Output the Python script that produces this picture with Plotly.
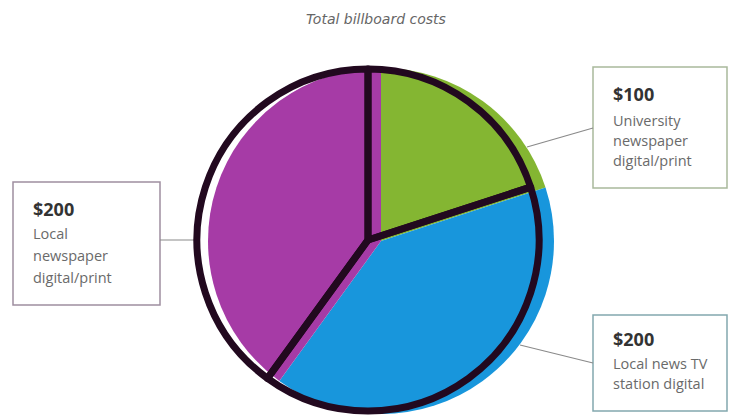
import plotly.graph_objects as go

W, H = 729, 415

# ---- data ----
labels = ["University newspaper digital/print", "Local news TV station digital", "Local newspaper digital/print"]
values = [100, 200, 200]
colors = ["#84b632", "#1896dc", "#a63ba6"]
title = "Total billboard costs"
callout_lines = [["University", "newspaper", "digital/print"],
                 ["Local news TV", "station digital"],
                 ["Local", "newspaper", "digital/print"]]

def px(x):
    return x / W

def py(y):
    return 1 - y / H

def dom(cx, cy, r):
    return dict(x=[px(cx - r), px(cx + r)], y=[py(cy + r), py(cy - r)])

fig = go.Figure()
# colored pie
fig.add_trace(go.Pie(
    labels=labels, values=values, sort=False, direction="clockwise", rotation=0,
    marker=dict(colors=colors, line=dict(width=0)),
    textinfo="none", hoverinfo="skip", showlegend=False,
    domain=dom(381, 241, 173),
))
# misregistered dark outline
fig.add_trace(go.Pie(
    labels=labels, values=values, sort=False, direction="clockwise", rotation=0,
    marker=dict(colors=["rgba(0,0,0,0)"] * 3, line=dict(width=7, color="#22091f")),
    textinfo="none", hoverinfo="skip", showlegend=False,
    domain=dom(368, 240, 171),
))

shapes = []
annotations = []

boxes = [
    # (x0, y0, x1, y1, border color, line from, line to, text x, amount y, first line y, spacing)
    (593, 67, 727, 188, "#a9b99c", (527, 147), (593, 128), 611, 94, 120, 20),
    (593, 315, 727, 411, "#82a8ae", (520, 345), (593, 363), 611, 339, 363, 20),
    (13, 182, 160, 305, "#9f8fa0", (160, 240), (194, 240), 31, 209, 233, 22),
]
for i, (x0, y0, x1, y1, col, a, b, tx, ay, ly, sp) in enumerate(boxes):
    shapes.append(dict(type="rect", xref="paper", yref="paper",
                       x0=px(x0), x1=px(x1), y0=py(y1), y1=py(y0),
                       line=dict(color=col, width=1.5), fillcolor="white", layer="below"))
    shapes.append(dict(type="line", xref="paper", yref="paper",
                       x0=px(a[0]), y0=py(a[1]), x1=px(b[0]), y1=py(b[1]),
                       line=dict(color="#8a8a8a", width=1.2), layer="below"))
    annotations.append(dict(xref="paper", yref="paper", x=px(tx), y=py(ay),
                            text="<b>$%d</b>" % values[i], showarrow=False,
                            xanchor="left", yanchor="middle",
                            font=dict(size=18, color="#333333", family="Open Sans")))
    for j, line in enumerate(callout_lines[i]):
        annotations.append(dict(xref="paper", yref="paper", x=px(tx), y=py(ly + sp * j),
                                text=line, showarrow=False,
                                xanchor="left", yanchor="middle",
                                font=dict(size=14.5, color="#6a6a6a", family="Open Sans")))

annotations.append(dict(xref="paper", yref="paper", x=px(376), y=py(19),
                        text="<i>" + title + "</i>", showarrow=False,
                        xanchor="center", yanchor="middle",
                        font=dict(size=14, color="#666666", family="DejaVu Sans")))

fig.update_layout(
    width=W, height=H, margin=dict(l=0, r=0, t=0, b=0),
    paper_bgcolor="white", plot_bgcolor="white",
    shapes=shapes, annotations=annotations,
)
fig.write_html("out.html")
